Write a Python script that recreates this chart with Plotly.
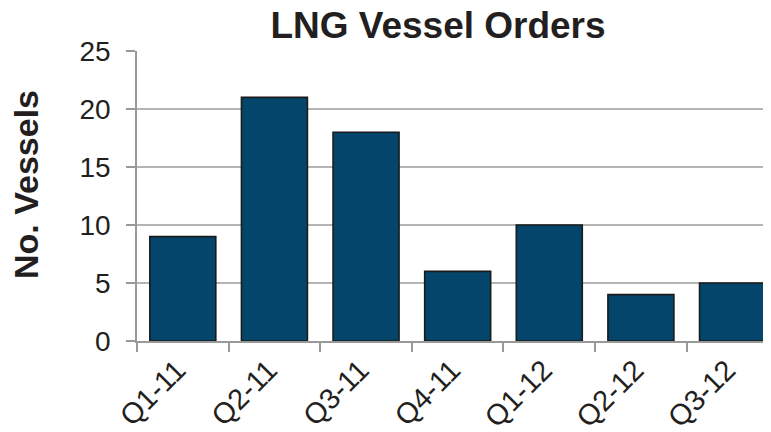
import plotly.graph_objects as go

categories = ["Q1-11", "Q2-11", "Q3-11", "Q4-11", "Q1-12", "Q2-12", "Q3-12"]
orders = [9, 21, 18, 6, 10, 4, 5]
y_ticks = [0, 5, 10, 15, 20, 25]

fig = go.Figure(go.Bar(
    x=categories, y=orders,
    marker=dict(color="#04466B", line=dict(color="#1a1a1a", width=1.6)),
    width=0.72,
))

font_fam = "Liberation Sans, Arial, sans-serif"
# page has 8px body margin; figure sized so plot spans to the window edge
W, H = 763, 424
L, R, T, B = 129, 0, 43, 91
pw = W - L - R
fig.update_layout(
    width=W, height=H,
    margin=dict(l=L, r=R, t=T, b=B, autoexpand=False),
    paper_bgcolor="white", plot_bgcolor="white",
    showlegend=False,
    font=dict(family=font_fam, color="#231F20", size=26),
    title=dict(text="<b>LNG Vessel Orders</b>", x=430 / W, xanchor="center",
               y=0.99, yanchor="top",
               font=dict(size=37, family=font_fam, color="#231F20")),
    annotations=[dict(
        text="<b>No. Vessels</b>", textangle=-90,
        xref="paper", yref="paper",
        x=(18 - L) / pw, y=0.538,
        xanchor="center", yanchor="middle", showarrow=False,
        font=dict(size=34, family=font_fam, color="#231F20"),
    )],
)
fig.update_xaxes(
    type="category", range=[-0.5, 6.42], automargin=False,
    tickvals=categories, ticktext=[c + "\u00a0" for c in categories],
    tickangle=-45, tickson="boundaries",
    ticks="outside", ticklen=9, tickcolor="#999999", tickwidth=1.5,
    showline=True, linecolor="#999999", linewidth=1.5,
    showgrid=False, ticklabelstandoff=-7,
    tickfont=dict(size=29),
)
fig.update_yaxes(
    range=[0, 25], tickvals=y_ticks, automargin=False,
    ticks="outside", ticklen=9, tickcolor="#999999", tickwidth=1.5,
    showline=True, linecolor="#999999", linewidth=1.5,
    showgrid=True, gridcolor="#B5B5B5", gridwidth=1.5,
    ticklabelstandoff=10,
    tickfont=dict(size=28),
    zeroline=False,
)
fig.write_html("out.html")
